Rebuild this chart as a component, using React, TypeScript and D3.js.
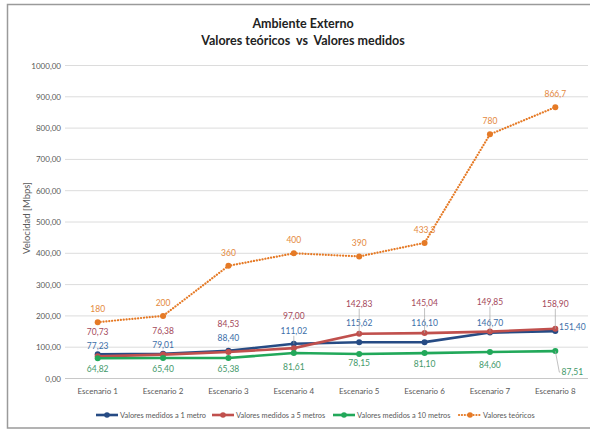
import React from "react";
import * as d3 from "d3";

const categories = ["Escenario 1", "Escenario 2", "Escenario 3", "Escenario 4", "Escenario 5", "Escenario 6", "Escenario 7", "Escenario 8"];
const medidos1m = [77.23, 79.01, 88.4, 111.02, 115.62, 116.1, 146.7, 151.4];
const medidos5m = [70.73, 76.38, 84.53, 97.0, 142.83, 145.04, 149.85, 158.9];
const medidos10m = [64.82, 65.4, 65.38, 81.61, 78.15, 81.1, 84.6, 87.51];
const teoricos = [180, 200, 360, 400, 390, 433.3, 780, 866.7];
const teoricosLabels = ["180", "200", "360", "400", "390", "433,3", "780", "866,7"];
const yTicks = [0, 100, 200, 300, 400, 500, 600, 700, 800, 900, 1000];

// label placement (layout, not data)
const off1m = [[0, -8], [0, -9], [0, -13], [0, -13], [0, -19], [0, -19], [0, -10], [17, -4]];
const off5m = [[0, -24], [0, -24], [0, -28], [0, -32], [0, -30], [0, -30], [0, -30], [0, -25]];
const off10m = [[0, 11], [0, 11], [0, 11], [0, 14], [0, 9], [0, 11], [0, 13], [17, 21]];
const lead1m = [false, false, false, true, false, false, false, false];
const lead5m = [false, false, false, false, true, true, true, true];
const lead10m = [false, false, false, false, false, false, false, true];

const FONT = "Lato, 'Open Sans', sans-serif";

const fmt = (v: number) => v.toFixed(2).replace(".", ",");

export default function App() {
  const W = 590, H = 430;
  const x = d3.scaleBand<string>().domain(categories).range([65, 588]);
  const y = d3.scaleLinear().domain([0, 1000]).range([378.5, 65.5]);
  const cx = (i: number) => (x(categories[i]) as number) + x.bandwidth() / 2;
  const line = d3.line<number>().x((_, i) => cx(i)).y((d) => y(d));

  const series = [
    { name: "Valores medidos a 1 metro", data: medidos1m, color: "#264B84", label: "#3B6EA8", off: off1m, lead: lead1m },
    { name: "Valores medidos a 5 metros", data: medidos5m, color: "#C0504D", label: "#A4485A", off: off5m, lead: lead5m },
    { name: "Valores medidos a 10 metros", data: medidos10m, color: "#22A85A", label: "#43996A", off: off10m, lead: lead10m },
  ];
  const orange = "#E57A26";

  const legend = [
    { name: series[0].name, color: series[0].color, x0: 96, dash: false },
    { name: series[1].name, color: series[1].color, x0: 212, dash: false },
    { name: series[2].name, color: series[2].color, x0: 333, dash: false },
    { name: "Valores teóricos", color: orange, x0: 459, dash: true },
  ];

  return (
    <svg width={W} height={H} style={{ position: "absolute", left: 0, top: 0, background: "#fff" }} fontFamily={FONT}>
      <rect x={7.5} y={4.5} width={590} height={423.5} fill="#fff" stroke="#9a9a9a" strokeWidth={1.5} />
      <text x={303} y={28} textAnchor="middle" fontSize={12.5} fontWeight="bold" fill="#222">Ambiente Externo</text>
      <text x={303} y={44.5} textAnchor="middle" fontSize={12.5} fontWeight="bold" fill="#222" xmlSpace="preserve">Valores teóricos  vs  Valores medidos</text>

      {yTicks.map((t) => (
        <g key={t}>
          <line x1={65} x2={588} y1={y(t)} y2={y(t)} stroke={t === 0 ? "#c8c8c8" : "#dcdcdc"} strokeWidth={1} />
          <text x={61} y={y(t) + 3} textAnchor="end" fontSize={8} fill="#595959">{fmt(t)}</text>
        </g>
      ))}
      <text transform={`translate(30,218) rotate(-90)`} textAnchor="middle" fontSize={9.5} fill="#595959">Velocidad [Mbps]</text>

      {categories.map((c, i) => (
        <text key={c} x={cx(i)} y={394} textAnchor="middle" fontSize={8} fill="#595959">{c}</text>
      ))}

      {/* teoricos */}
      <path d={line(teoricos) as string} fill="none" stroke={orange} strokeWidth={2.2} strokeDasharray="0.1 2.8" strokeLinecap="round" />
      {teoricos.map((v, i) => (
        <g key={i}>
          <circle cx={cx(i)} cy={y(v)} r={3} fill={orange} />
          <text x={cx(i)} y={y(v) - 13 + 3} textAnchor="middle" fontSize={8.5} fill="#E4893D">{teoricosLabels[i]}</text>
        </g>
      ))}

      {series.map((s) => (
        <g key={s.name}>
          <path d={line(s.data) as string} fill="none" stroke={s.color} strokeWidth={2.6} strokeLinejoin="round" />
          {s.data.map((v, i) => (
            <circle key={i} cx={cx(i)} cy={y(v)} r={3} fill={s.color} />
          ))}
        </g>
      ))}

      {series.map((s) => (
        <g key={s.name + "lab"}>
          {s.data.map((v, i) => {
            const lx = cx(i) + s.off[i][0];
            const ly = y(v) + s.off[i][1];
            let lead = null;
            if (s.lead[i]) {
              if (s.off[i][0] !== 0) {
                lead = <polyline points={`${cx(i)},${y(v)} ${cx(i) + 4},${ly} ${lx - 12},${ly}`} fill="none" stroke="#a6a6a6" strokeWidth={0.7} />;
              } else {
                const dir = s.off[i][1] < 0 ? 1 : -1;
                lead = <line x1={cx(i)} x2={cx(i)} y1={ly + dir * 5} y2={y(v)} stroke="#a6a6a6" strokeWidth={0.7} />;
              }
            }
            return (
              <g key={i}>
                {lead}
                <text x={lx} y={ly + 3} textAnchor="middle" fontSize={8.5} fill={s.label}>{fmt(v)}</text>
              </g>
            );
          })}
        </g>
      ))}

      {legend.map((l) => (
        <g key={l.name}>
          {l.dash ? (
            <line x1={l.x0} x2={l.x0 + 21} y1={415} y2={415} stroke={l.color} strokeWidth={2.2} strokeDasharray="0.1 2.8" strokeLinecap="round" />
          ) : (
            <line x1={l.x0} x2={l.x0 + 22} y1={415} y2={415} stroke={l.color} strokeWidth={2.6} />
          )}
          <circle cx={l.x0 + 11} cy={415} r={2.8} fill={l.color} />
          <text x={l.x0 + 24} y={417.8} fontSize={7.4} fill="#595959">{l.name}</text>
        </g>
      ))}
    </svg>
  );
}
